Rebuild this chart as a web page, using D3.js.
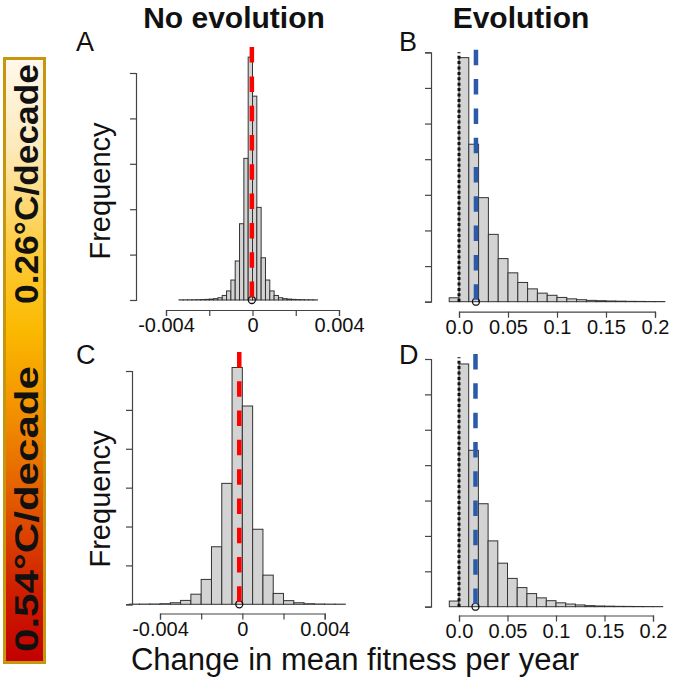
<!DOCTYPE html>
<html>
<head>
<meta charset="utf-8">
<script src="https://cdn.jsdelivr.net/npm/d3@7"></script>
<style>
  html, body { margin: 0; padding: 0; background: #fff; }
  svg { display: block; font-family: "Liberation Sans", Arial, Helvetica, sans-serif; }
</style>
</head>
<body>
<svg id="chart" width="673" height="682"></svg>
<script>
// ---------- DATA ----------
const columnTitles = ["No evolution", "Evolution"];
const rowLabels = ["0.26°C/decade", "0.54°C/decade"];
const panelLetters = ["A", "B", "C", "D"];
const yAxisLabel = "Frequency";
const xAxisLabel = "Change in mean fitness per year";

// Histogram A (no evolution, 0.26°C/decade)
const binStartA = -0.0034, binWidthA = 0.0002;
const countsA = [0.004, 0.004, 0.005, 0.006, 0.008, 0.01, 0.014, 0.02, 0.03, 0.05, 0.1, 0.2,
  0.44, 0.86, 1.68, 3.12, 5.35, 4.49, 2.04, 0.93, 0.44, 0.2, 0.1, 0.05, 0.03, 0.02, 0.014,
  0.01, 0.008, 0.006, 0.005, 0.004];
const meanA = -0.00003;

// Histogram B (evolution, 0.26°C/decade)
const binStartB = -0.01, binWidthB = 0.01;
const countsB = [0.11, 6.85, 4.42, 2.92, 1.89, 1.21, 0.81, 0.54, 0.36, 0.24, 0.18, 0.12, 0.08,
  0.056, 0.037, 0.028, 0.02, 0.015, 0.01, 0.008, 0.005, 0.004];
const meanB = 0.0173;

// Histogram C (no evolution, 0.54°C/decade)
const binStartC = -0.0055, binWidthC = 0.0005;
const countsC = [0.004, 0.006, 0.008, 0.015, 0.04, 0.10, 0.26, 0.64, 1.48, 3.11, 6.09, 5.10,
  1.93, 0.75, 0.28, 0.094, 0.04, 0.015, 0.008, 0.005, 0.004];
const meanC = -0.00015;

// Histogram D (evolution, 0.54°C/decade)
const binStartD = -0.01, binWidthD = 0.01;
const countsD = [0.16, 6.86, 4.42, 2.91, 1.86, 1.23, 0.80, 0.54, 0.37, 0.25, 0.17, 0.11, 0.075,
  0.05, 0.03, 0.02, 0.015, 0.01, 0.008, 0.006, 0.004, 0.003];
const meanD = 0.017;

// axis ticks
const ticksNoEvo = [-0.004, -0.002, 0, 0.002, 0.004];
const labelsNoEvo = ["-0.004", "", "0", "", "0.004"];
const ticksEvo = [0, 0.05, 0.1, 0.15, 0.2];
const labelsEvo = ["0.0", "0.05", "0.1", "0.15", "0.2"];
const yTicksA = [0, 1, 2, 3, 4, 5];
const yTicksB = [0, 1, 2, 3, 4, 5, 6, 7];
const yTicksC = [0, 1, 2, 3, 4, 5, 6];
const yTicksD = [0, 1, 2, 3, 4, 5, 6, 7];

// ---------- LAYOUT ----------
const svg = d3.select("#chart");
const RED = "#ff0000", BLUE = "#2b5ba8";

const panels = [
  { letter: panelLetters[0], counts: countsA, start: binStartA, width: binWidthA, mean: meanA,
    xd: [-0.004, 0.004], xr: [166, 339], yd: [0, 5], yr: [300, 73],
    xTicks: ticksNoEvo, xLabels: labelsNoEvo, yTicks: yTicksA, axisY: 310, yAxisX: 136,
    meanColor: RED, meanTop: 5.57, zeroLine: false, letterPos: [76, 51] },
  { letter: panelLetters[1], counts: countsB, start: binStartB, width: binWidthB, mean: meanB,
    xd: [0, 0.2], xr: [459, 655], yd: [0, 7], yr: [301.7, 52.3],
    xTicks: ticksEvo, xLabels: labelsEvo, yTicks: yTicksB, axisY: 311.7, yAxisX: 431,
    meanColor: BLUE, meanTop: 7.07, zeroLine: true, zeroTop: 7.0, letterPos: [399, 51] },
  { letter: panelLetters[2], counts: countsC, start: binStartC, width: binWidthC, mean: meanC,
    xd: [-0.004, 0.004], xr: [160, 324.7], yd: [0, 6], yr: [604.3, 371],
    xTicks: ticksNoEvo, xLabels: labelsNoEvo, yTicks: yTicksC, axisY: 613.5, yAxisX: 132,
    meanColor: RED, meanTop: 6.49, zeroLine: false, letterPos: [76, 364] },
  { letter: panelLetters[3], counts: countsD, start: binStartD, width: binWidthD, mean: meanD,
    xd: [0, 0.2], xr: [459, 653], yd: [0, 7], yr: [606.7, 359],
    xTicks: ticksEvo, xLabels: labelsEvo, yTicks: yTicksD, axisY: 615.5, yAxisX: 431,
    meanColor: BLUE, meanTop: 7.14, zeroLine: true, zeroTop: 7.05, letterPos: [399, 364] }
];

panels.forEach(p => {
  const x = d3.scaleLinear().domain(p.xd).range(p.xr);
  const y = d3.scaleLinear().domain(p.yd).range(p.yr);
  const g = svg.append("g");
  const bins = p.counts.map((c, i) => ({ x0: p.start + i * p.width, x1: p.start + (i + 1) * p.width, c }));

  // bars
  g.selectAll("rect.bar").data(bins).join("rect")
    .attr("class", "bar")
    .attr("x", d => x(d.x0))
    .attr("width", d => x(d.x1) - x(d.x0))
    .attr("y", d => y(d.c))
    .attr("height", d => y(0) - y(d.c))
    .attr("fill", "#d3d3d3")
    .attr("stroke", "#333")
    .attr("stroke-width", 1);

  // x axis
  const xa = d3.axisBottom(x).tickValues(p.xTicks)
    .tickFormat((d, i) => p.xLabels[i]).tickSizeOuter(0).tickSize(6).tickPadding(2);
  const gx = g.append("g").attr("transform", `translate(0,${p.axisY})`).call(xa);
  gx.selectAll("path, line").attr("stroke", "#444").attr("stroke-width", 1.2);
  gx.selectAll("text").attr("font-size", 20).attr("fill", "#111")
    .attr("font-family", "Liberation Sans, Arial, sans-serif");

  // y axis (no labels)
  const ya = d3.axisLeft(y).tickValues(p.yTicks).tickFormat("").tickSizeOuter(0).tickSize(6);
  const gy = g.append("g").attr("transform", `translate(${p.yAxisX},0)`).call(ya);
  gy.selectAll("path, line").attr("stroke", "#444").attr("stroke-width", 1.2);

  // zero reference line (dotted)
  if (p.zeroLine) {
    g.append("line")
      .attr("x1", x(0)).attr("x2", x(0))
      .attr("y1", y(0)).attr("y2", y(p.zeroTop))
      .attr("stroke", "#111").attr("stroke-width", 3)
      .attr("stroke-dasharray", "3,2.4");
  }

  // mean point
  g.append("circle")
    .attr("cx", x(p.mean)).attr("cy", y(0)).attr("r", 3.5)
    .attr("fill", "none").attr("stroke", "#111").attr("stroke-width", 1.3);

  // mean dashed line
  g.append("line")
    .attr("x1", x(p.mean)).attr("x2", x(p.mean))
    .attr("y1", y(p.meanTop)).attr("y2", y(0))
    .attr("stroke", p.meanColor).attr("stroke-width", 4.5)
    .attr("stroke-dasharray", "15.5,13.8");

  // panel letter
  svg.append("text").attr("x", p.letterPos[0]).attr("y", p.letterPos[1])
    .attr("font-size", 27).attr("fill", "#111").text(p.letter);
});

// column titles
svg.append("text").attr("x", 234).attr("y", 28).attr("text-anchor", "middle")
  .attr("font-size", 30).attr("font-weight", "bold").attr("fill", "#111").text(columnTitles[0]);
svg.append("text").attr("x", 521).attr("y", 28).attr("text-anchor", "middle")
  .attr("font-size", 30).attr("font-weight", "bold").attr("fill", "#111").text(columnTitles[1]);

// y labels
[191, 499].forEach(cy => {
  svg.append("text").attr("transform", `translate(110,${cy}) rotate(-90)`)
    .attr("text-anchor", "middle").attr("font-size", 29).attr("fill", "#111").text(yAxisLabel);
});

// x label
svg.append("text").attr("x", 355).attr("y", 670).attr("text-anchor", "middle")
  .attr("font-size", 31).attr("fill", "#111").text(xAxisLabel);

// colour bar
const defs = svg.append("defs");
const grad = defs.append("linearGradient").attr("id", "heat")
  .attr("x1", 0).attr("y1", 0).attr("x2", 0).attr("y2", 1);
[[0, "#fff8ec"], [0.15, "#fde9ba"], [0.32, "#fdcb3a"], [0.45, "#fbb900"], [0.6, "#f18c00"],
 [0.75, "#e05200"], [0.88, "#cf1f00"], [1, "#c20000"]]
  .forEach(([o, c]) => grad.append("stop").attr("offset", o).attr("stop-color", c));
svg.append("rect").attr("x", 4.5).attr("y", 58.5).attr("width", 40).attr("height", 604)
  .attr("fill", "url(#heat)").attr("stroke", "#c8960c").attr("stroke-width", 3);

svg.append("text").attr("transform", "translate(38,184) rotate(-90)")
  .attr("text-anchor", "middle").attr("font-size", 34).attr("font-weight", "bold")
  .attr("textLength", 240).attr("lengthAdjust", "spacingAndGlyphs")
  .attr("fill", "#111").text(rowLabels[0]);
svg.append("text").attr("transform", "translate(38,509) rotate(-90)")
  .attr("text-anchor", "middle").attr("font-size", 34).attr("font-weight", "bold")
  .attr("textLength", 286).attr("lengthAdjust", "spacingAndGlyphs")
  .attr("fill", "#111").text(rowLabels[1]);
</script>
</body>
</html>
